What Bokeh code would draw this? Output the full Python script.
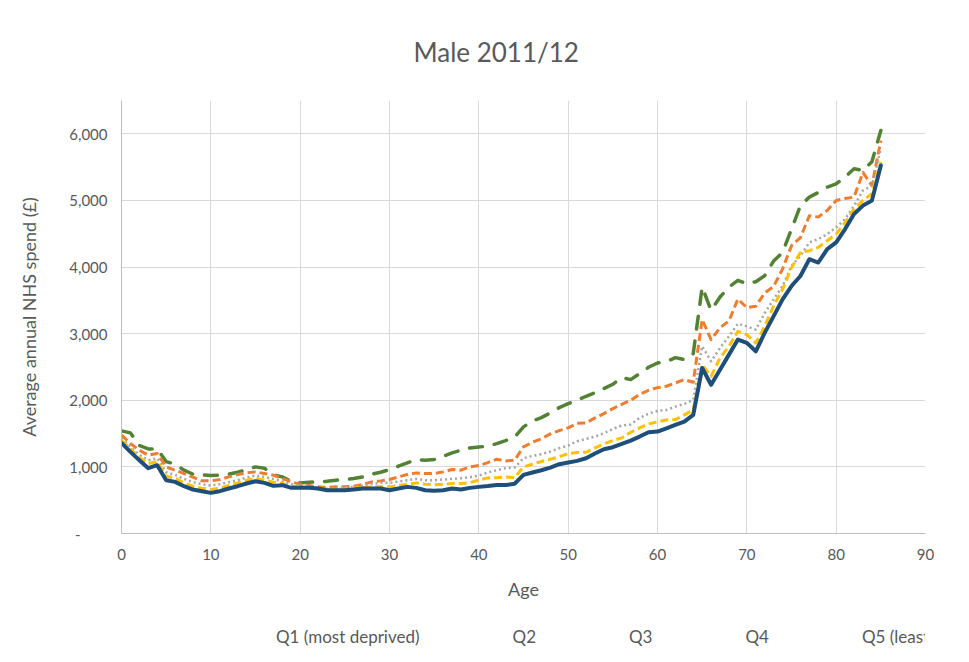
from bokeh.plotting import figure
from bokeh.layouts import column
from bokeh.models import Legend, LegendItem, NumeralTickFormatter, FixedTicker, Range1d
from bokeh.embed import file_html
from bokeh.resources import INLINE

ages = list(range(0, 86))

q1 = [1540, 1510, 1320, 1270, 1270, 1080, 1040, 950, 890, 880, 870, 875, 890, 920, 960, 1000, 980, 880, 850, 780, 760,
      770, 775, 785, 800, 810, 825, 850, 890, 920, 960, 1010, 1060, 1110, 1100, 1110, 1160, 1210, 1250, 1285, 1300,
      1310, 1350, 1395, 1445, 1600, 1690, 1740, 1810, 1890, 1950, 2000, 2060, 2115, 2175, 2240, 2340, 2310, 2400, 2495, 2560,
      2580, 2640, 2610, 2700, 3700, 3350, 3550, 3700, 3800, 3750, 3780, 3870, 4090, 4220, 4570, 4920, 5050, 5120, 5200, 5250,
      5350, 5475, 5450, 5580, 6050]
q2 = [1480, 1350, 1250, 1175, 1200, 1000, 950, 900, 845, 790, 790, 810, 850, 885, 910, 925, 900, 875, 825, 775, 740,
      720, 700, 690, 700, 700, 710, 735, 775, 790, 810, 850, 885, 910, 900, 900, 925, 960, 950, 1000, 1020,
      1065, 1115, 1090, 1100, 1300, 1370, 1420, 1495, 1545, 1585, 1655, 1660, 1735, 1800, 1875, 1940, 2000, 2090, 2150, 2190,
      2210, 2260, 2310, 2270, 3210, 2910, 3090, 3190, 3520, 3390, 3410, 3610, 3710, 3970, 4320, 4440, 4770, 4750, 4850, 5000,
      5030, 5050, 5420, 5220, 5900]
q3 = [1430, 1300, 1180, 1100, 1130, 920, 880, 820, 770, 740, 720, 740, 770, 800, 840, 870, 850, 820, 780, 740, 720,
      700, 680, 670, 680, 690, 700, 720, 740, 760, 760, 780, 800, 820, 800, 800, 810, 820, 830, 845, 870,
      915, 950, 980, 990, 1130, 1165, 1190, 1230, 1280, 1320, 1385, 1420, 1455, 1505, 1570, 1620, 1635, 1735, 1800, 1840,
      1855, 1905, 1945, 2005, 2810, 2585, 2785, 2960, 3150, 3110, 3060, 3310, 3515, 3715, 4015, 4170, 4370, 4420, 4495, 4595,
      4720, 4920, 5150, 5220, 5780]
q4 = [1400, 1270, 1140, 1050, 1080, 860, 830, 760, 710, 680, 660, 680, 720, 760, 800, 830, 800, 770, 750, 710, 700,
      690, 670, 660, 665, 670, 680, 690, 700, 700, 700, 720, 740, 760, 740, 730, 740, 750, 750, 765, 800,
      835, 838, 848, 840, 1000, 1040, 1080, 1115, 1150, 1200, 1215, 1220, 1285, 1345, 1395, 1435, 1520, 1585, 1645, 1675,
      1705, 1710, 1780, 1855, 2535, 2360, 2635, 2810, 3035, 2985, 2860, 3110, 3415, 3665, 3990, 4220, 4245, 4295, 4395, 4495,
      4670, 4870, 5000, 5100, 5575]
q5 = [1360, 1225, 1100, 980, 1025, 800, 775, 710, 660, 635, 610, 635, 675, 710, 750, 785, 760, 715, 725, 685, 685,
      685, 675, 650, 650, 650, 660, 675, 675, 675, 650, 675, 700, 685, 650, 640, 650, 675, 660, 685, 700,
      712, 727, 727, 747, 880, 915, 950, 990, 1040, 1065, 1090, 1130, 1200, 1265, 1295, 1345, 1395, 1455, 1520, 1530,
      1578, 1629, 1679, 1780, 2484, 2232, 2459, 2685, 2911, 2861, 2735, 3012, 3263, 3514, 3715, 3866, 4118, 4068, 4268, 4369,
      4570, 4796, 4922, 4997, 5525]

series_names = ["Q1 (most deprived)", "Q2", "Q3", "Q4", "Q5 (least deprived)"]
x_ticks = [0, 10, 20, 30, 40, 50, 60, 70, 80, 90]
y_ticks = [0, 1000, 2000, 3000, 4000, 5000, 6000]

FONT = "Lato"
TXT = "#595959"
GRID = "#d9d9d9"

p = figure(frame_width=804, frame_height=433, output_backend="svg", toolbar_location=None,
           x_range=Range1d(0, 90), y_range=Range1d(0, 6500),
           title="Male 2011/12",
           min_border_left=121, min_border_right=32, min_border_top=100, min_border_bottom=72)

p.title.align = "left"
p.title.text_font = FONT
p.title.text_font_size = "26px"
p.title.text_font_style = "normal"
p.title.text_color = TXT
p.title.standoff = 66
p.title.offset = 292

p.outline_line_color = None
p.background_fill_color = "white"
p.border_fill_color = "white"

p.xaxis.ticker = FixedTicker(ticks=x_ticks)
p.yaxis.ticker = FixedTicker(ticks=y_ticks)
p.yaxis.formatter = NumeralTickFormatter(format="0,0")
p.yaxis.major_label_overrides = {0: "-\u00a0\u00a0\u00a0\u00a0\u00a0\u00a0\u00a0"}

for ax in (p.xaxis[0], p.yaxis[0]):
    ax.axis_line_color = "#bfbfbf"
    ax.major_tick_line_color = None
    ax.minor_tick_line_color = None
    ax.major_label_text_font = FONT
    ax.major_label_text_font_size = "15px"
    ax.major_label_text_color = TXT
    ax.axis_label_text_font = FONT
    ax.axis_label_text_font_size = "18px"
    ax.axis_label_text_font_style = "normal"
    ax.axis_label_text_color = TXT

p.xaxis.axis_label = "Age"
p.yaxis.axis_label = "Average annual NHS spend (£)"
p.xaxis.major_label_standoff = 9
p.xaxis.axis_label_standoff = 15
p.yaxis.major_label_standoff = 8
p.yaxis.axis_label_standoff = 26

p.xgrid.ticker = FixedTicker(ticks=x_ticks)
p.ygrid.ticker = FixedTicker(ticks=y_ticks)
p.xgrid.grid_line_color = GRID
p.ygrid.grid_line_color = GRID

styles = [
    dict(line_color="#548235", line_width=3.5, line_dash="13 12", line_cap="round"),
    dict(line_color="#ED7D31", line_width=3, line_dash="8 4", line_cap="butt"),
    dict(line_color="#A5A5A5", line_width=2.5, line_dash="2 3", line_cap="butt"),
    dict(line_color="#FFC000", line_width=3, line_dash="8 4", line_cap="butt"),
    dict(line_color="#1F4E79", line_width=4, line_cap="round"),
]

for vals, st in zip([q1, q2, q3, q4, q5], styles):
    p.line(ages, vals, line_join="round", **st)

# legend strip below the chart
pl = figure(width=957, height=50, output_backend="svg", toolbar_location=None,
            x_range=Range1d(0, 1), y_range=Range1d(0, 1),
            x_axis_location=None, y_axis_location=None,
            min_border_left=0, min_border_right=0, min_border_top=0, min_border_bottom=0)
pl.grid.visible = False
pl.outline_line_color = None
pl.background_fill_color = "white"
pl.border_fill_color = "white"

items = []
for name, st in zip(series_names, styles):
    r = pl.line(x=[], y=[], **st)
    items.append(LegendItem(label=name, renderers=[r]))

legend = Legend(items=items, orientation="horizontal", location=(97, 8),
                glyph_width=52, glyph_height=20, label_standoff=6, spacing=35,
                label_text_font=FONT, label_text_font_size="17px", label_text_color=TXT,
                border_line_color=None, background_fill_alpha=0, padding=0, margin=0)
pl.add_layout(legend)

layout = column(p, pl, spacing=0)
open("out.html", "w").write(file_html(layout, INLINE))
